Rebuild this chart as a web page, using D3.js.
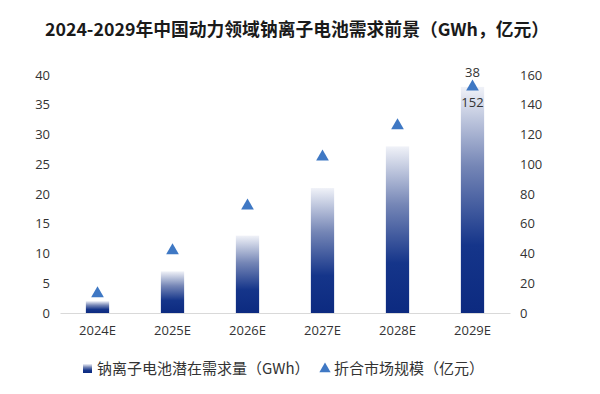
<!DOCTYPE html>
<html>
<head>
<meta charset="utf-8">
<script src="https://cdn.jsdelivr.net/npm/d3@7"></script>
<style>
  body { margin: 0; background: #fff; }
  svg { display: block; font-family: "Noto Sans CJK SC", "Noto Sans", sans-serif; }
</style>
</head>
<body>
<div id="chart"></div>
<script>
const years = ['2024E', '2025E', '2026E', '2027E', '2028E', '2029E'];
const demandGWh = [2, 7, 13, 21, 28, 38];
const marketSize = [13, 42, 72, 105, 126, 152];
const leftTicks = [0, 5, 10, 15, 20, 25, 30, 35, 40];
const rightTicks = [0, 20, 40, 60, 80, 100, 120, 140, 160];

const width = 600, height = 394;
const margin = { top: 75, right: 90, bottom: 81, left: 60 };
const numFont = '"Open Sans", "Noto Sans", sans-serif';

const svg = d3.select('#chart').append('svg')
    .attr('width', width)
    .attr('height', height);

const defs = svg.append('defs');
const grad = defs.append('linearGradient')
    .attr('id', 'barGrad')
    .attr('x1', 0).attr('y1', 1).attr('x2', 0).attr('y2', 0);
grad.append('stop').attr('offset', '0%').attr('stop-color', '#0c2a80');
grad.append('stop').attr('offset', '30%').attr('stop-color', '#15358a');
grad.append('stop').attr('offset', '65%').attr('stop-color', '#7586b6');
grad.append('stop').attr('offset', '100%').attr('stop-color', '#f0f2f8');

// title
svg.append('text')
    .attr('x', 297)
    .attr('y', 36)
    .attr('text-anchor', 'middle')
    .attr('font-size', 17.8)
    .attr('font-weight', 'bold')
    .attr('fill', '#1a1a1a')
    .text('2024-2029年中国动力领域钠离子电池需求前景（GWh，亿元）');

const x = d3.scaleBand()
    .domain(years)
    .range([margin.left, width - margin.right])
    .paddingInner(0.69)
    .paddingOuter(0.345);

const yLeft = d3.scaleLinear()
    .domain([0, 40])
    .range([height - margin.bottom, margin.top]);

const yRight = d3.scaleLinear()
    .domain([0, 160])
    .range([height - margin.bottom, margin.top]);

// left axis
const leftAxis = svg.append('g')
    .attr('transform', `translate(${margin.left - 10},0)`)
    .call(d3.axisLeft(yLeft).tickValues(leftTicks).tickSize(0).tickPadding(0));
leftAxis.select('.domain').remove();
leftAxis.selectAll('text').attr('font-size', 13).attr('fill', '#333')
    .attr('font-family', numFont);

// right axis
const rightAxis = svg.append('g')
    .attr('transform', `translate(${width - margin.right + 10},0)`)
    .call(d3.axisRight(yRight).tickValues(rightTicks).tickSize(0).tickPadding(0));
rightAxis.select('.domain').remove();
rightAxis.selectAll('text').attr('font-size', 13).attr('fill', '#333')
    .attr('font-family', numFont);

// bars
svg.append('g').selectAll('rect')
    .data(years)
    .join('rect')
    .attr('x', d => x(d))
    .attr('width', x.bandwidth())
    .attr('y', (d, i) => yLeft(demandGWh[i]))
    .attr('height', (d, i) => yLeft(0) - yLeft(demandGWh[i]))
    .attr('fill', 'url(#barGrad)');

// x axis
const xAxis = svg.append('g')
    .attr('transform', `translate(0,${height - margin.bottom})`)
    .call(d3.axisBottom(x).tickSize(0).tickPadding(13));
xAxis.select('.domain').attr('stroke', '#d9d9d9');
xAxis.selectAll('text').attr('font-size', 13).attr('fill', '#333')
    .attr('font-family', numFont);

// triangles
const tri = d3.symbol().type(d3.symbolTriangle).size(70);
svg.append('g').selectAll('path')
    .data(years)
    .join('path')
    .attr('d', tri)
    .attr('transform', (d, i) => `translate(${x(d) + x.bandwidth() / 2},${yRight(marketSize[i])})`)
    .attr('fill', '#3f78c4');

// labels for last year
const last = years.length - 1;
const cx = x(years[last]) + x.bandwidth() / 2;
svg.append('text')
    .attr('x', cx)
    .attr('y', yRight(marketSize[last]) - 10)
    .attr('text-anchor', 'middle')
    .attr('font-size', 13)
    .attr('fill', '#333')
    .attr('font-family', numFont)
    .text(demandGWh[last]);
svg.append('text')
    .attr('x', cx)
    .attr('y', yRight(marketSize[last]) + 20)
    .attr('text-anchor', 'middle')
    .attr('font-size', 13)
    .attr('fill', '#333')
    .attr('font-family', numFont)
    .text(marketSize[last]);

// legend
const legend = svg.append('g').attr('transform', 'translate(0,368)');
legend.append('rect')
    .attr('x', 83).attr('y', -4).attr('width', 9).attr('height', 9)
    .attr('fill', 'url(#barGrad)');
legend.append('text')
    .attr('x', 97).attr('y', 6)
    .attr('font-size', 15).attr('fill', '#333')
    .text('钠离子电池潜在需求量（GWh）');
legend.append('path')
    .attr('d', d3.symbol().type(d3.symbolTriangle).size(55))
    .attr('transform', 'translate(325,1)')
    .attr('fill', '#3f78c4');
legend.append('text')
    .attr('x', 334).attr('y', 6)
    .attr('font-size', 15).attr('fill', '#333')
    .text('折合市场规模（亿元）');
</script>
</body>
</html>
